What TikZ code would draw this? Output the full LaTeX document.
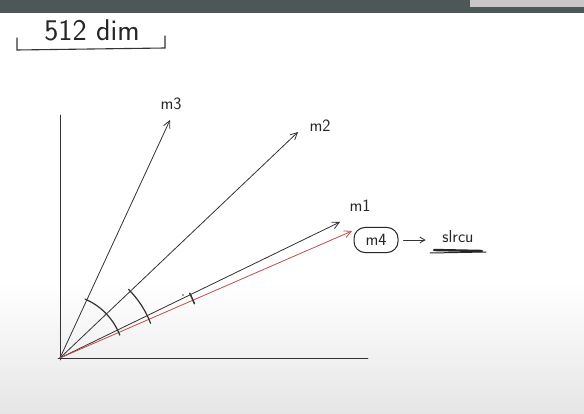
\documentclass[tikz,border=0pt]{standalone}
\usetikzlibrary{arrows.meta}
\definecolor{barcol}{RGB}{78,87,87}
\begin{document}
\begin{tikzpicture}[x=1pt,y=1pt,
  ink/.style={draw=black!80,line width=0.8pt,line cap=round},
  vec/.style={ink,-{Straight Barb[length=7pt,width=7pt]}},
  redvec/.style={draw=red!65!black!70,line width=0.8pt,-{Straight Barb[length=7pt,width=7pt]}},
  lbl/.style={font=\sffamily\LARGE,text=black!85,inner sep=1pt}]
\useasboundingbox (0,0) rectangle (584,413);
\fill[white] (0,0) rectangle (584,413);
\shade[top color=white,bottom color=black!10] (0,0) rectangle (584,130);
\fill[barcol] (0,400) rectangle (584,413);
\fill[black!22] (470,406) rectangle (584,413);
% title
\node[font=\sffamily\fontsize{30}{34}\selectfont,text=black!85] (title) at (92,383) {512 dim};
\draw[ink,line width=1.1pt] (17,375) -- (17,363) -- (165,365) -- (165,377);
% axes
\coordinate (O) at (60,55);
\coordinate (ytop) at (60,298);
\coordinate (ybot) at (60,53);
\coordinate (xl) at (58,55);
\coordinate (xr) at (368,55);
\draw[ink] (ybot) -- (ytop);
\draw[ink] (xl) -- (xr);
% vectors
\coordinate (t3) at (170,293);
\coordinate (t2) at (298,281);
\coordinate (t1) at (340,191);
\coordinate (tr) at (352,182);
\draw[vec] (O) -- (t3);
\draw[vec] (O) -- (t2);
\draw[vec] (O) -- (t1);
\draw[redvec] (O) -- (tr);
\node[lbl] (m3) at (171,309) {m3};
\node[lbl] (m2) at (320,287) {m2};
\node[lbl] (m1) at (360,207) {m1};
\node[lbl,font=\sffamily\LARGE,draw=black!85,line width=1pt,rounded corners=11pt,minimum height=25pt,minimum width=44pt] (m4) at (376,173) {m4};
\node[lbl] (s) at (458,176) {slrcu};
\draw[vec,-{Straight Barb[length=5pt,width=6pt]}] (m4.east) ++(5,0) coordinate (a1) -- ++(22,0) coordinate (a2);
\draw[black!85,line width=2.4pt,line cap=round] (434,163) -- (482,162);
\draw[black!85,line width=1pt,line cap=round] (430,160) -- (486,161);
% angle arcs
\draw[ink,line width=1.2pt] ([shift={(O)}]67:64) arc[start angle=67,end angle=21,radius=64];
\draw[ink,line width=1.2pt] ([shift={(O)}]45:97) arc[start angle=45,end angle=21,radius=97];
\draw[ink,line width=1.5pt] ([shift={(O)}]26.5:145) arc[start angle=26.5,end angle=22,radius=145];
\fill[black!50] (183,118) circle (1.2);
\end{tikzpicture}
\end{document}
